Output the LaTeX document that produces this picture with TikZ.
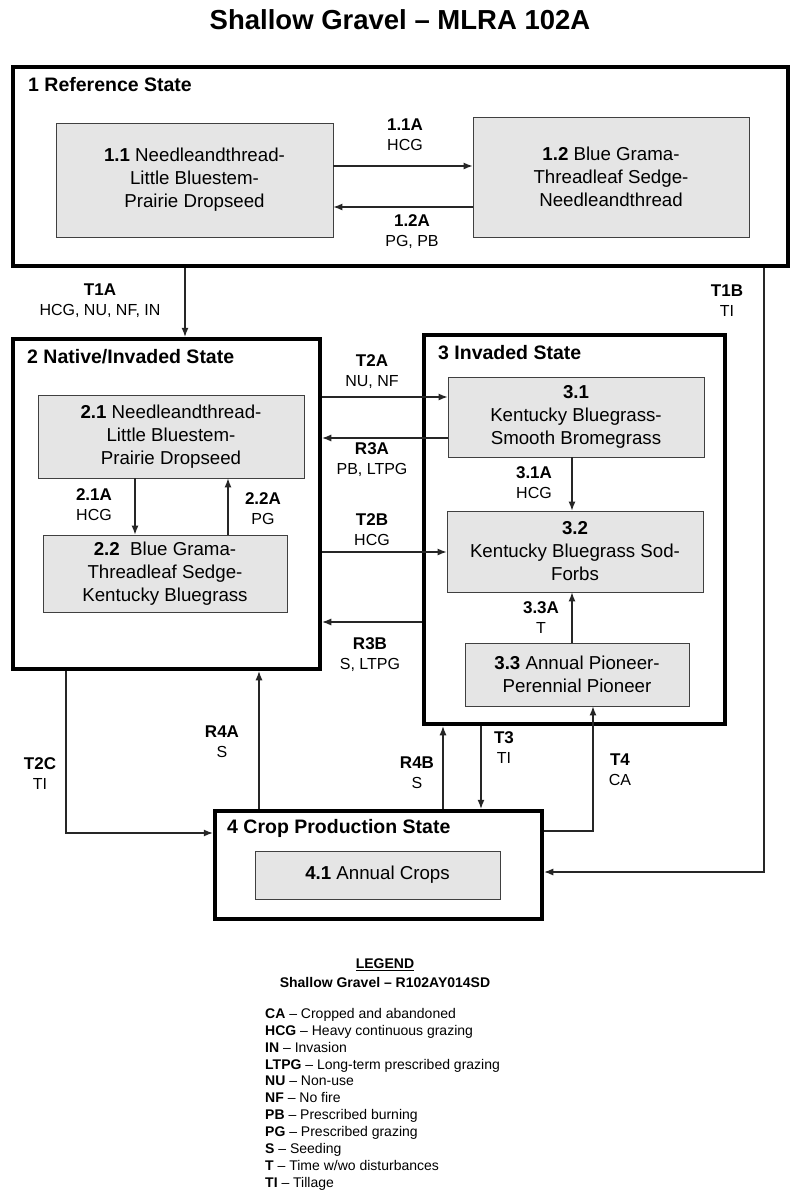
\documentclass[tikz,border=0pt]{standalone}
\usepackage{fontspec}
\setmainfont{Liberation Sans}
\usetikzlibrary{arrows.meta}

\newcommand{\tcode}[1]{{\fontsize{17}{20}\selectfont\bfseries #1}}

\tikzset{
  statebox/.style={draw=black, line width=4.5pt},
  phase/.style={draw=black!75, fill=gray!20, line width=0.9pt, align=center,
    font=\fontsize{18.7}{23}\selectfont, inner sep=0pt},
  stitle/.style={anchor=west, inner sep=0pt, font=\bfseries\fontsize{19.5}{22}\selectfont},
  lbl/.style={align=center, inner sep=0pt, font=\fontsize{16}{20}\selectfont},
  arr/.style={draw=black!85, line width=1.1pt, -{Latex[length=9pt,width=7pt]}},
}

\begin{document}
\begin{tikzpicture}[x=1pt,y=-1pt]
\useasboundingbox (0,0) rectangle (800,1195);

% title
\node[font=\bfseries\fontsize{27.5}{30}\selectfont] (title) at (400,20) {Shallow Gravel -- MLRA 102A};

% states
\node[statebox, minimum width=775, minimum height=199] (ref) at (400.5,166.5) {};
\node[statebox, minimum width=307, minimum height=330] (ni) at (166.5,504) {};
\node[statebox, minimum width=301, minimum height=389] (inv) at (574.5,529.5) {};
\node[statebox, minimum width=327, minimum height=108] (crop) at (378.5,865) {};
\node[stitle] (refT) at (28,85) {1 Reference State};
\node[stitle] (niT) at (27,357) {2 Native/Invaded State};
\node[stitle] (invT) at (438,353) {3 Invaded State};
\node[stitle] (cropT) at (227,828) {4 Crop Production State};

% community phases
\node[phase, minimum width=277, minimum height=114] (s11) at (194.5,180)
  {\textbf{1.1} Needleandthread-\\Little Bluestem-\\Prairie Dropseed};
\node[phase, minimum width=276, minimum height=120] (s12) at (611,177)
  {\textbf{1.2} Blue Grama-\\Threadleaf Sedge-\\Needleandthread};
\node[phase, minimum width=266, minimum height=83] (s21) at (171,436.5)
  {\textbf{2.1} Needleandthread-\\Little Bluestem-\\Prairie Dropseed};
\node[phase, minimum width=244, minimum height=77] (s22) at (165,573.5)
  {\textbf{2.2}\ \ Blue Grama-\\Threadleaf Sedge-\\Kentucky Bluegrass};
\node[phase, minimum width=256, minimum height=80] (s31) at (576,417)
  {\textbf{3.1}\\Kentucky Bluegrass-\\Smooth Bromegrass};
\node[phase, minimum width=256, minimum height=81] (s32) at (575,551.5)
  {\textbf{3.2}\\Kentucky Bluegrass Sod-\\Forbs};
\node[phase, minimum width=224, minimum height=63] (s33) at (577,674.5)
  {\textbf{3.3} Annual Pioneer-\\Perennial Pioneer};
\node[phase, minimum width=245, minimum height=48] (s41) at (377.5,875)
  {\textbf{4.1} Annual Crops};

% pathways
\draw[arr] ([yshift=14]s11.east) -- ([yshift=14]s11.east -| s12.west);
\draw[arr] ([yshift=-27]s11.east -| s12.west) -- ([yshift=-27]s11.east);
\draw[arr] (s21.south -| 135,0) -- (s22.north -| 135,0);
\draw[arr] (s22.north -| 228,0) -- (s21.south -| 228,0);
\draw[arr] (s31.south -| 572,0) -- (s32.north -| 572,0);
\draw[arr] (s33.north -| 572,0) -- (s32.south -| 572,0);

% transitions
\draw[arr] (ref.south -| 185,0) -- (ni.north -| 185,0);
\draw[arr] (ref.south -| 764,0) |- ([yshift=-7]crop.east);
\draw[arr] (ni.east |- 0,397) -- (s31.west |- 0,397);
\draw[arr] (s31.west |- 0,438) -- (ni.east |- 0,438);
\draw[arr] (ni.east |- 0,552) -- (s32.west |- 0,552);
\draw[arr] (inv.west |- 0,622) -- (ni.east |- 0,622);
\draw[arr] (ni.south -| 66,0) |- ([yshift=32]crop.west);
\draw[arr] (crop.north -| 259,0) -- (ni.south -| 259,0);
\draw[arr] (crop.north -| 443,0) -- (inv.south -| 443,0);
\draw[arr] (inv.south -| 481,0) -- (crop.north -| 481,0);
\draw[arr] ([yshift=34]crop.east) -| (s33.south -| 593,0);

% labels
\node[lbl] (l11A) at (405,135) {\tcode{1.1A}\\HCG};
\node[lbl] (l12A) at (412,232) {\tcode{1.2A}\\PG, PB};
\node[lbl] (lT1A) at (100,301) {\tcode{T1A}\\HCG, NU, NF, IN};
\node[lbl] (lT1B) at (727,301) {\tcode{T1B}\\TI};
\node[lbl] (lT2A) at (372,372) {\tcode{T2A}\\NU, NF};
\node[lbl] (lR3A) at (372,460) {\tcode{R3A}\\PB, LTPG};
\node[lbl] (l31A) at (534,483) {\tcode{3.1A}\\HCG};
\node[lbl] (l21A) at (94,505) {\tcode{2.1A}\\HCG};
\node[lbl] (l22A) at (263,509) {\tcode{2.2A}\\PG};
\node[lbl] (lT2B) at (372,530) {\tcode{T2B}\\HCG};
\node[lbl] (l33A) at (541,618) {\tcode{3.3A}\\T};
\node[lbl] (lR3B) at (370,655) {\tcode{R3B}\\S, LTPG};
\node[lbl] (lR4A) at (222,742) {\tcode{R4A}\\S};
\node[lbl] (lT2C) at (40,774) {\tcode{T2C}\\TI};
\node[lbl] (lT3) at (504,748) {\tcode{T3}\\TI};
\node[lbl] (lR4B) at (417,773) {\tcode{R4B}\\S};
\node[lbl] (lT4) at (620,770) {\tcode{T4}\\CA};

% legend
\node[font=\bfseries\fontsize{14}{17}\selectfont] (legT) at (385,965) {\underline{LEGEND}};
\node[font=\bfseries\fontsize{14}{17}\selectfont] (legS) at (385,982) {Shallow Gravel -- R102AY014SD};
\node[anchor=north west, align=left, inner sep=0pt, font=\fontsize{14}{16.9}\selectfont] (leg) at (265,1008)
  {\textbf{CA} -- Cropped and abandoned\\
   \textbf{HCG} -- Heavy continuous grazing\\
   \textbf{IN} -- Invasion\\
   \textbf{LTPG} -- Long-term prescribed grazing\\
   \textbf{NU} -- Non-use\\
   \textbf{NF} -- No fire\\
   \textbf{PB} -- Prescribed burning\\
   \textbf{PG} -- Prescribed grazing\\
   \textbf{S} -- Seeding\\
   \textbf{T} -- Time w/wo disturbances\\
   \textbf{TI} -- Tillage};
\end{tikzpicture}
\end{document}
